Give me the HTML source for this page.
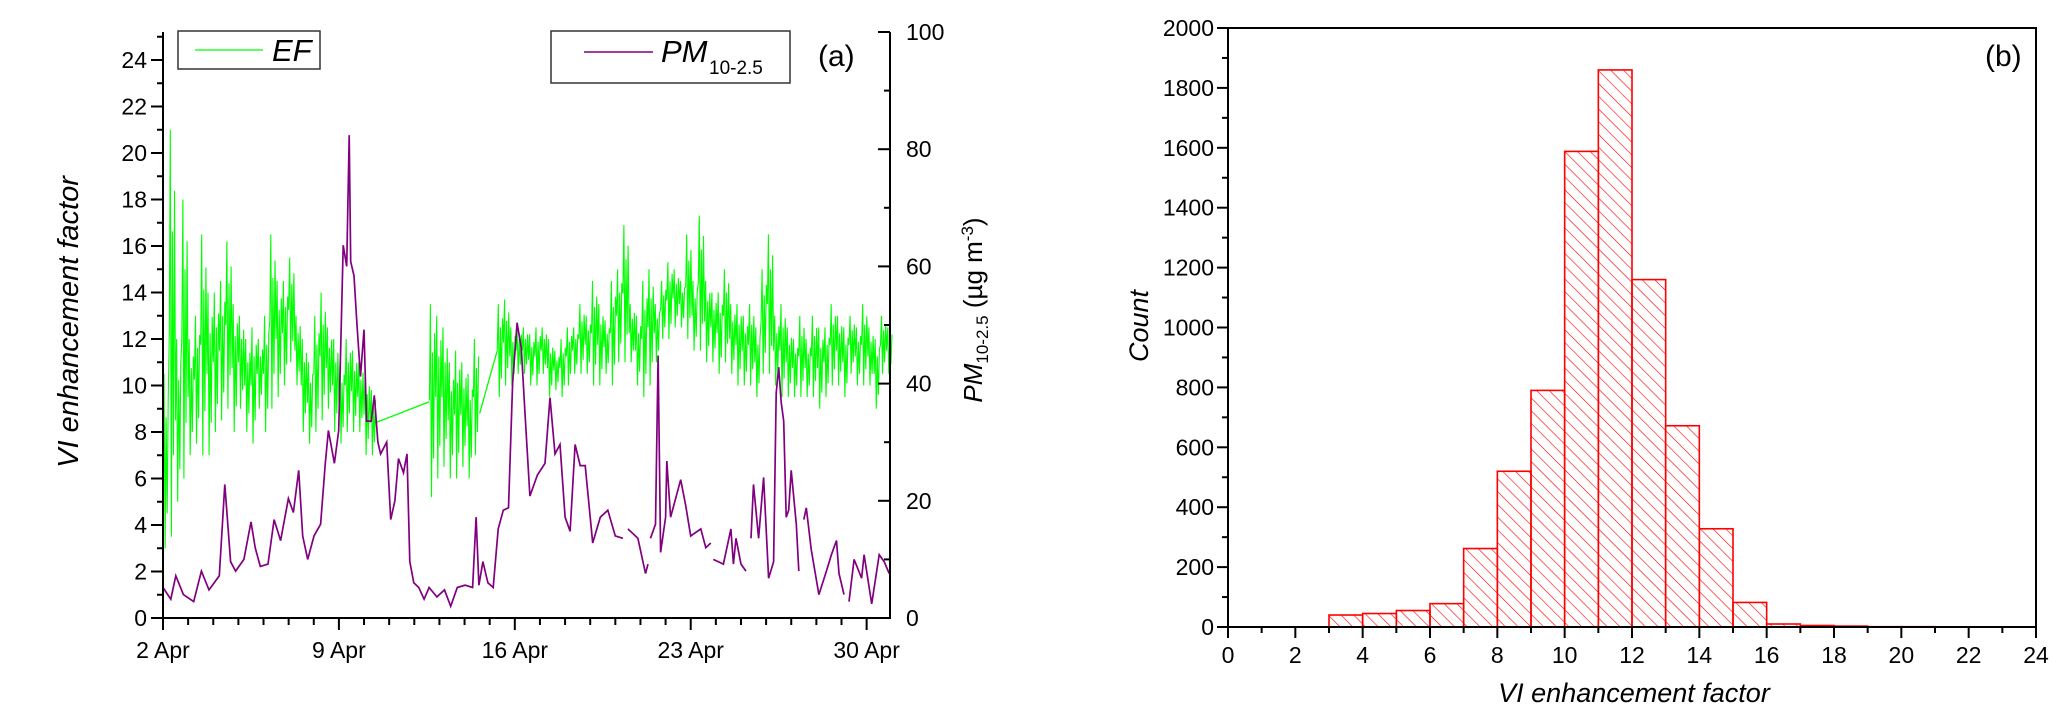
<!DOCTYPE html>
<html><head><meta charset="utf-8"><style>
html,body{margin:0;padding:0;background:#fff;}
svg{display:block;font-family:"Liberation Sans",Arial,sans-serif;}
</style></head><body>
<svg id="chart" width="2067" height="725" viewBox="0 0 2067 725">
<defs>
<pattern id="hatch" patternUnits="userSpaceOnUse" width="9" height="9" patternTransform="rotate(-45)">
<line x1="0" y1="0" x2="0" y2="9" stroke="#ff0000" stroke-width="1.2"/>
</pattern>
</defs>
<g id="panelA"></g>
<g id="panelB"></g>
</svg>
<script>
// ---------- Panel (a) data ----------
const pmDay = [0,0.31,0.51,0.81,1.22,1.53,1.83,2.24,2.46,2.69,2.89,3.22,3.5,3.67,3.87,4.18,4.42,4.68,4.99,5.19,5.4,5.56,5.76,6.01,6.27,6.46,6.58,6.82,6.99,7.17,7.31,7.41,7.47,7.6,7.72,7.86,8.0,8.1,8.29,8.41,8.55,8.66,8.9,9.06,9.23,9.37,9.57,9.71,9.82,9.98,10.18,10.39,10.59,10.9,11.2,11.45,11.71,12.02,12.32,12.46,12.57,12.73,12.93,13.14,13.34,13.54,13.75,13.91,14.09,14.26,14.4,14.6,14.9,15.2,15.4,15.6,15.8,16.0,16.2,16.4,16.6,16.8,17.1,17.4,17.7,18.0,18.3,null,18.5,18.9,19.2,19.3,null,19.4,19.6,19.7,19.8,20.0,20.05,20.2,20.6,20.8,21.0,21.4,21.6,21.8,null,21.9,22.3,22.6,22.7,22.8,23.0,23.2,null,23.4,23.5,23.7,23.9,24.1,24.3,24.4,24.5,24.6,24.7,24.8,24.9,25.0,25.2,25.3,null,25.5,25.6,25.8,26.1,26.4,26.6,26.8,26.9,27.1,null,27.3,27.5,27.8,27.9,28.2,28.5,28.7,28.9];
const pmVal = [5.2,3.2,7.2,4.0,2.8,8.0,4.8,7.2,22.8,9.6,8.0,10.0,16.4,12.0,8.8,9.2,16.8,13.2,20.4,18.0,25.2,14.0,10.0,14.0,16.0,26.4,32.0,26.4,32.0,63.6,60.0,82.4,60.8,58.4,50.0,41.2,49.2,33.6,33.6,38.0,30.0,28.0,30.0,16.8,20.0,27.2,24.8,28.0,9.6,6.0,5.2,3.2,5.2,3.6,4.8,2.0,5.2,5.6,5.2,17.2,5.6,9.6,6.0,5.2,15.2,18.4,18.8,40.0,50.4,46.0,35.2,20.8,24.4,26.4,37.6,28.0,29.6,17.2,14.8,29.6,26.0,26.0,12.8,17.2,18.4,14.0,13.6,null,15.2,13.6,7.6,9.2,null,13.6,16.0,44.8,11.2,17.2,26.8,17.2,23.6,19.2,14.0,15.2,12.0,12.8,null,10.0,9.2,15.2,9.2,13.6,9.2,8.0,null,13.6,22.8,13.6,24.0,6.8,9.6,38.4,42.8,36.8,33.6,17.2,18.4,25.2,16.0,8.0,null,16.8,18.8,11.6,4.0,8.0,10.8,13.2,7.6,4.0,null,2.8,10.0,6.8,10.8,2.4,10.8,9.6,7.6];
// EF: low/high envelope of the noisy signal per sample time (three continuous segments)
const efDayA = [0,0.25,0.5,0.75,1,1.25,1.5,1.75,2,2.25,2.5,2.75,3,3.25,3.5,3.75,4,4.25,4.5,4.75,5,5.25,5.5,5.75,6,6.25,6.5,6.75,7,7.25,7.5,7.75,8,8.25];
const efLoA = [3,3.5,5,6,7,7.5,7,7,8,8.5,9,8,9,8,7.5,9,8,9,9.5,10,11,10,8,7.5,8,8.5,9,8,7.5,8,8,8,7,7];
const efHiA = [10.5,21,12,18,12,13,16.5,14,14,14.5,16.2,13.5,13,12,12.5,12,13,16.5,14.5,14.5,15.5,13,12,11,13,14,12.5,12,11,12,11.5,11,10.5,9.8];
const efDayB = [10.6,10.85,11.1,11.35,11.6,11.85,12.1,12.35];
const efLoB = [5.2,6,6.5,6,6,6.5,6,7];
const efHiB = [13.5,13,12.5,11,11.5,11,10.5,12];
const efDayC = [13.3,13.55,13.8,14.05,14.3,14.55,14.8,15.05,15.3,15.55,15.8,16.05,16.3,16.55,16.8,17.05,17.3,17.55,17.8,18.05,18.3,18.55,18.8,19.05,19.3,19.55,19.8,20.05,20.3,20.55,20.8,21.05,21.3,21.55,21.8,22.05,22.3,22.55,22.8,23.05,23.3,23.55,23.8,24.05,24.3,24.55,24.8,25.05,25.3,25.55,25.8,26.05,26.3,26.55,26.8,27.05,27.3,27.55,27.8,28.05,28.3,28.55,28.8];
const efLoC = [9.5,10,10,10.5,10.5,10,10,10.5,9.5,9.8,9.5,10,10.5,10.5,10.5,10,10,10.5,10,11,11,11,10,9.5,10,11,12,12,12.5,12.5,12,11.5,11.5,11,11,10.5,11,10.5,10,10,10,9.5,10.5,10.5,10,9.5,9.5,9.5,9.5,9.5,9.5,9,9.5,10,10,9.5,10.5,10,10,10,9,10.5,10.5];
const efHiC = [13.5,13.7,12.5,12.5,12.5,12.2,12.5,12.5,12,11.5,12,12.5,12.5,13.5,13,14.5,13.5,12.8,14.5,15,16.9,13.5,13,14.5,15,13.5,14.5,15.3,15,14.5,16.5,14.5,17.3,14.5,14,14,15,13.5,13.5,13,13.5,12.5,15,16.5,13,13.5,12.5,12,13,12,13,12.5,12.5,13.5,13,12.5,13,12.5,13.5,12.5,12,13,12.5];
// straight connector lines across data gaps
const efLinkDay = [8.45,10.6,12.6,13.3];
const efLinkVal = [8.4,9.3,8.8,11.5];
const leftTicks = [0,2,4,6,8,10,12,14,16,18,20,22,24];
const rightTicks = [0,20,40,60,80,100];
const dateTickDays = [0,7,14,21,28];
const dateTickLabels = ["2 Apr","9 Apr","16 Apr","23 Apr","30 Apr"];

// ---------- Panel (b) data ----------
const binStart = [3,4,5,6,7,8,9,10,11,12,13,14,15,16,17,18,19,20];
const binCount = [40,45,55,78,262,520,790,1588,1860,1160,672,328,82,10,5,3,1,1];
const countTicks = [0,200,400,600,800,1000,1200,1400,1600,1800,2000];
const efTicks = [0,2,4,6,8,10,12,14,16,18,20,22,24];

const NS = "http://www.w3.org/2000/svg";
function mk(parent, tag, attrs, text) {
  const e = document.createElementNS(NS, tag);
  for (const k in attrs) e.setAttribute(k, attrs[k]);
  if (text !== undefined) e.textContent = text;
  parent.appendChild(e);
  return e;
}

// ===== Panel (a) =====
const A = document.getElementById('panelA');
const aL = 163, aR = 890, aB = 618, aT = 32;
const dayMax = 28.93;
const xA = d => aL + d / dayMax * (aR - aL);
const yEF = v => aB - v * 23.25;
const yPM = v => aB - v * (aB - aT) / 100;

function efSegment(days, lo, hi) {
  const pts = [];
  for (let i = 0; i < days.length; i++) {
    const step = (i < days.length - 1 ? days[i + 1] - days[i] : 0.25) / 6;
    const l = lo[i], h = hi[i];
    const seq = [l + (h - l) * 0.5, h, l, l + (h - l) * 0.75, l + (h - l) * 0.2, l + (h - l) * 0.85];
    for (let k = 0; k < seq.length; k++) pts.push(xA(days[i] + k * step).toFixed(1) + ',' + yEF(seq[k]).toFixed(1));
  }
  return pts;
}
[[efDayA, efLoA, efHiA], [efDayB, efLoB, efHiB], [efDayC, efLoC, efHiC]].forEach(s => {
  const pl = mk(A, 'polyline', {points: efSegment(s[0], s[1], s[2]).join(' '), fill: 'none', stroke: '#00ff00', 'stroke-width': 1.1});
  
  
});
for (let i = 0; i < efLinkDay.length; i += 2) {
  const ln = mk(A, 'line', {x1: xA(efLinkDay[i]), y1: yEF(efLinkVal[i]), x2: xA(efLinkDay[i + 1]), y2: yEF(efLinkVal[i + 1]), stroke: '#00ff00', 'stroke-width': 1.3});
  
  
}

// PM series (null breaks the line)
let seg = [];
const pmGroup = mk(A, 'g', {});


function flushPM() {
  if (seg.length > 1) {
    const pl = mk(pmGroup, 'polyline', {points: seg.join(' '), fill: 'none', stroke: '#800080', 'stroke-width': 1.7});
    
    
  }
  seg = [];
}
for (let i = 0; i < pmDay.length; i++) {
  if (pmDay[i] === null || pmVal[i] === null) { flushPM(); continue; }
  seg.push(xA(pmDay[i]).toFixed(1) + ',' + yPM(pmVal[i]).toFixed(1));
}
flushPM();

// axes
const axA = mk(A, 'g', {stroke: '#000', 'stroke-width': 2, fill: 'none'});


mk(axA, 'line', {x1: aL, y1: aT, x2: aL, y2: aB + 1});
mk(axA, 'line', {x1: aL - 1, y1: aB, x2: aR + 1, y2: aB});
mk(axA, 'line', {x1: aR, y1: aT, x2: aR, y2: aB + 1});
for (let v = 0; v <= 25; v++) {
  const y = yEF(v);
  mk(axA, 'line', {x1: aL - (v % 2 === 0 ? 12 : 6), y1: y, x2: aL, y2: y});
}
leftTicks.forEach(v => {
  const t = mk(A, 'text', {x: aL - 16, y: yEF(v) + 8, 'text-anchor': 'end', 'font-size': 23}, String(v));
  
  
});
for (let v = 0; v <= 100; v += 10) {
  const y = yPM(v);
  mk(axA, 'line', {x1: aR - (v % 20 === 0 ? 12 : 6), y1: y, x2: aR, y2: y});
}
rightTicks.forEach(v => {
  const t = mk(A, 'text', {x: aR + 16, y: yPM(v) + 8, 'text-anchor': 'start', 'font-size': 23}, String(v));
  
  
});
for (let d = 0; d <= 28; d++) {
  const x = xA(d);
  mk(axA, 'line', {x1: x, y1: aB, x2: x, y2: aB + (d % 7 === 0 ? 12 : 7)});
}
dateTickDays.forEach((d, i) => {
  const t = mk(A, 'text', {x: xA(d), y: aB + 40, 'text-anchor': 'middle', 'font-size': 23}, dateTickLabels[i]);
  
  
});

// titles
let t = mk(A, 'text', {x: 0, y: 0, 'text-anchor': 'middle', 'font-size': 29, 'font-style': 'italic', transform: 'translate(78,322) rotate(-90)'}, 'VI enhancement factor');


t = mk(A, 'text', {x: 0, y: 0, 'text-anchor': 'middle', 'font-size': 26, transform: 'translate(982,310) rotate(-90)'});


mk(t, 'tspan', {'font-style': 'italic'}, 'PM');
mk(t, 'tspan', {'font-size': 17, dy: 6}, '10-2.5');
mk(t, 'tspan', {dy: -6}, ' (\u00b5g m');
mk(t, 'tspan', {'font-size': 17, dy: -9}, '-3');
mk(t, 'tspan', {dy: 9}, ')');
t = mk(A, 'text', {x: 818, y: 66, 'font-size': 30}, '(a)');



// legends
let lg = mk(A, 'g', {});


mk(lg, 'rect', {x: 178, y: 31, width: 142, height: 38, fill: '#fff', stroke: '#333', 'stroke-width': 1.5});
mk(lg, 'line', {x1: 195, y1: 50, x2: 263, y2: 50, stroke: '#00ff00', 'stroke-width': 1.2});
mk(lg, 'text', {x: 272, y: 61, 'font-size': 31, 'font-style': 'italic'}, 'EF');
lg = mk(A, 'g', {});


mk(lg, 'rect', {x: 551, y: 31, width: 239, height: 52, fill: '#fff', stroke: '#333', 'stroke-width': 1.5});
mk(lg, 'line', {x1: 584, y1: 52, x2: 653, y2: 52, stroke: '#800080', 'stroke-width': 1.5});
mk(lg, 'text', {x: 661, y: 62, 'font-size': 31, 'font-style': 'italic'}, 'PM');
mk(lg, 'text', {x: 709, y: 74, 'font-size': 19}, '10-2.5');

// ===== Panel (b) =====
const B = document.getElementById('panelB');
const bL = 1228, bR = 2036, bB = 627, bT = 28;
const xB = v => bL + v * (bR - bL) / 24;
const yB = c => bB - c * (bB - bT) / 2000;
binStart.forEach((s, i) => {
  const r = mk(B, 'rect', {x: xB(s), y: yB(binCount[i]), width: xB(s + 1) - xB(s), height: bB - yB(binCount[i]), fill: 'url(#hatch)', stroke: '#ff0000', 'stroke-width': 1.6});
  
  
});
const axB = mk(B, 'g', {stroke: '#000', 'stroke-width': 2, fill: 'none'});


mk(axB, 'rect', {x: bL, y: bT, width: bR - bL, height: bB - bT});
for (let c = 0; c <= 2000; c += 100) {
  mk(axB, 'line', {x1: bL - (c % 200 === 0 ? 11 : 6), y1: yB(c), x2: bL, y2: yB(c)});
}
countTicks.forEach(c => {
  const tt = mk(B, 'text', {x: bL - 14, y: yB(c) + 8, 'text-anchor': 'end', 'font-size': 23}, String(c));
  
  
});
for (let v = 0; v <= 24; v++) {
  mk(axB, 'line', {x1: xB(v), y1: bB, x2: xB(v), y2: bB + (v % 2 === 0 ? 11 : 6)});
}
efTicks.forEach(v => {
  const tt = mk(B, 'text', {x: xB(v), y: bB + 36, 'text-anchor': 'middle', 'font-size': 23}, String(v));
  
  
});
t = mk(B, 'text', {x: 1634, y: 702, 'text-anchor': 'middle', 'font-size': 27, 'font-style': 'italic'}, 'VI enhancement factor');


t = mk(B, 'text', {x: 0, y: 0, 'text-anchor': 'middle', 'font-size': 27, 'font-style': 'italic', transform: 'translate(1148,326) rotate(-90)'}, 'Count');


t = mk(B, 'text', {x: 1985, y: 66, 'font-size': 30}, '(b)');


</script>
</body></html>
